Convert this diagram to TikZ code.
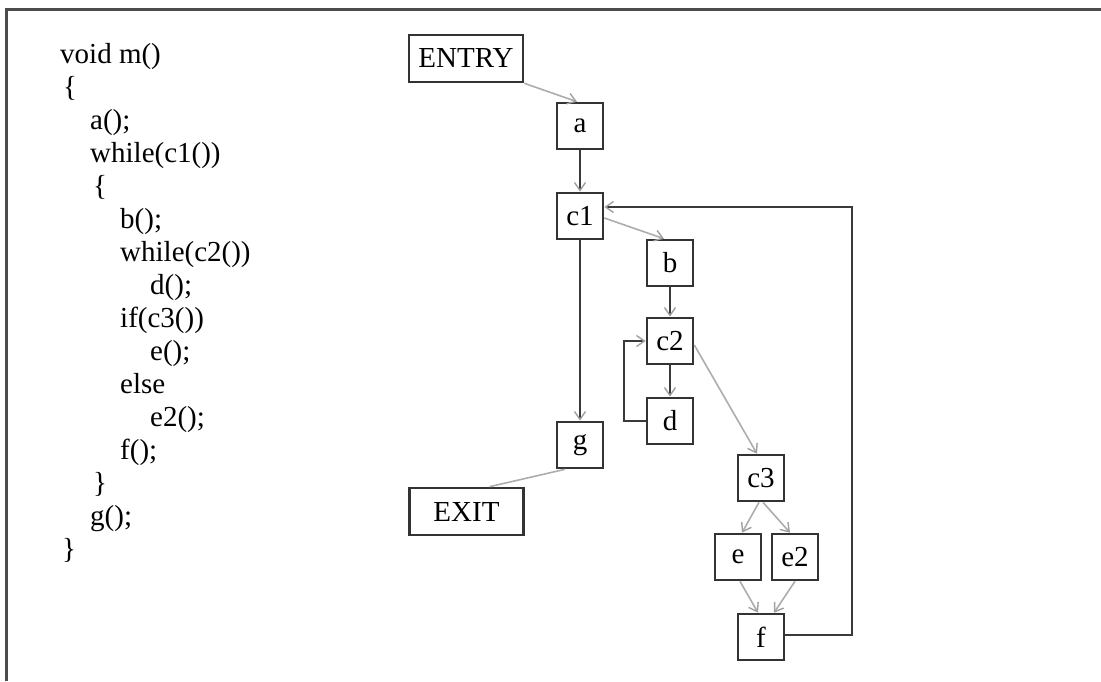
\documentclass[tikz,border=0pt]{standalone}
\usepackage{fontspec}
\setmainfont{Liberation Serif}
\usetikzlibrary{arrows.meta}
\definecolor{boxc}{HTML}{333333}
\definecolor{darkl}{HTML}{3A3A3A}
\definecolor{greyl}{HTML}{ADADAD}
\definecolor{tipc}{HTML}{A0A0A0}
\tikzset{
  blk/.style={draw=boxc, line width=2.6pt, rectangle, minimum width=46pt, minimum height=46pt, inner sep=0pt, font=\fontsize{29}{33}\selectfont},
  wide/.style={blk, minimum width=114pt, minimum height=47pt},
  code/.style={anchor=base west, inner sep=0pt, font=\fontsize{29}{33}\selectfont, text=black},
  gline/.style={draw=greyl, line width=1.6pt, -{Straight Barb[length=8pt,width=11pt,color=tipc,line width=1.4pt]}},
  dline/.style={draw=darkl, line width=2.2pt, -{Straight Barb[length=8pt,width=11pt,color=tipc,line width=1.4pt]}},
  gplain/.style={draw=greyl, line width=1.6pt},
}
\begin{document}
\begin{tikzpicture}[x=1pt,y=-1pt]
\useasboundingbox (0,0) rectangle (1101,681);
\fill[white] (0,0) rectangle (1101,681);
% frame
\draw[draw=black!70, line width=3pt] (6,681) -- (6,9) -- (1101,9);
% code
\node[code] (l0) at (60,63) {void m()};
\node[code] (l1) at (63,96) {\{};
\node[code] (l2) at (90,129) {a();};
\node[code] (l3) at (90,162) {while(c1())};
\node[code] (l4) at (93,195) {\{};
\node[code] (l5) at (120,228) {b();};
\node[code] (l6) at (120,261) {while(c2())};
\node[code] (l7) at (150,294) {d();};
\node[code] (l8) at (120,327) {if(c3())};
\node[code] (l9) at (150,360) {e();};
\node[code] (l10) at (120,393) {else};
\node[code] (l11) at (150,426) {e2();};
\node[code] (l12) at (120,459) {f();};
\node[code] (l13) at (93,492) {\}};
\node[code] (l14) at (90,525) {g();};
\node[code] (l15) at (62,558) {\}};
% graph nodes
\node[wide] (ENTRY) at (466,58.5) {ENTRY};
\node[blk] (a) at (580,126) {a};
\node[blk] (c1) at (580,216) {c1};
\node[blk] (b) at (670,263) {b};
\node[blk] (c2) at (670,341) {c2};
\node[blk] (d) at (670,421) {d};
\node[blk] (g) at (580,445) {g};
\node[wide] (EXIT) at (466.5,511.5) {EXIT};
\node[blk] (c3) at (761,478) {c3};
\node[blk] (e) at (738,557) {e};
\node[blk] (e2) at (795,557) {e2};
\node[blk] (f) at (761,637) {f};
\coordinate (fr) at (852,207);
\coordinate (dl) at (624,421);
% edges
\draw[gline] (ENTRY.south east) -- ([xshift=-3pt]a.north);
\draw[dline] (a) -- (c1);
\draw[gline] ([yshift=-2pt]c1.east) -- ([xshift=-6pt]b.north);
\draw[dline] (c1) -- (g);
\draw[dline] (b) -- (c2);
\draw[dline] (c2) -- (d);
\draw[dline] (d.west) -- (dl) |- (c2.west);
\draw[gline] ([yshift=-4pt]c2.east) -- ([xshift=-4pt]c3.north);
\draw[gline] ([xshift=-2pt]c3.south) -- ([xshift=4pt]e.north);
\draw[gline] ([xshift=2pt]c3.south) -- ([xshift=-5pt]e2.north);
\draw[gline] ([xshift=2pt]e.south) -- ([xshift=-3pt]f.north);
\draw[gline] (e2.south) -- ([xshift=13pt]f.north);
\draw[dline] ([yshift=2pt]f.east) -| (fr) -- (fr -| c1.east);
\draw[gplain] ([xshift=-15pt]g.south) -- ([xshift=23pt]EXIT.north);
\end{tikzpicture}
\end{document}
